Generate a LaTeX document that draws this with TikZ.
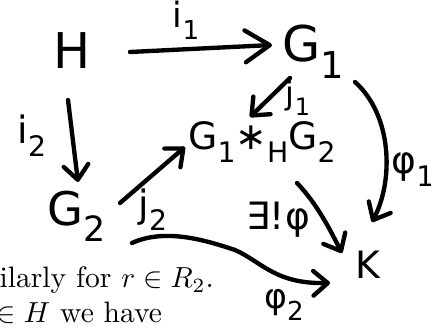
\documentclass[tikz,border=0pt]{standalone}
\usepackage{fontspec}
\usepackage{graphicx}
\usetikzlibrary{arrows.meta,calc}
\newfontfamily\handfont{DejaVu Sans}
\newcommand{\hsub}[1]{\raisebox{-0.35em}{\scalebox{0.75}{#1}}}
\begin{document}
\begin{tikzpicture}[x=0.345pt,y=-0.345pt,
  hand/.style={font={\handfont\fontsize{#1}{#1}\selectfont}, inner sep=0pt},
  stroke/.style={line width=1.5pt, line cap=round, line join=round},
  arr/.style={stroke, -{Straight Barb[length=5pt,width=8.5pt,line width=1.5pt,round]}},
  bigarr/.style={stroke, -{Straight Barb[length=8.5pt,width=11pt,line width=1.5pt,round]}},
  body/.style={font=\fontsize{10.2}{12}\selectfont, inner sep=0pt, anchor=base west}]
\useasboundingbox (0,0) rectangle (431,329);
\clip (0,0) rectangle (431,329);
% nodes
\node[hand=17pt] (H) at (72,51) {H};
\node[hand=17pt] (G1) at (313,52) {G\hsub{1}};
\node[hand=16pt] (G2) at (77,216) {G\hsub{2}};
\node[hand=13pt] (C) at (262,142) {G\hsub{1}∗\hsub{H}G\hsub{2}};
\node[hand=13pt] (K) at (368,265) {K};
% labels
\node[hand=12pt] (i1) at (186,20) {i\hsub{1}};
\node[hand=13pt] (i2) at (32,136) {i\hsub{2}};
\node[hand=11pt] (j1) at (298,98) {j\hsub{1}};
\node[hand=13pt] (j2) at (153,210) {j\hsub{2}};
\node[hand=13pt] (p1) at (413,170) {φ\hsub{1}};
\node[hand=13pt] (ex) at (278,220) {∃!φ};
\node[hand=12pt] (p2) at (284,305) {φ\hsub{2}};
% body text
\node[body] (t1) at (-1,288) {ilarly for $r \in R_2$.};
\node[body] (t2) at (-4,322) {$\in H$ we have};
% connectors
\draw[bigarr] ($(H)+(58,1)$) -- ($(G1)+(-41,-7)$);
\draw[arr] ($(H)+(-4,49)$) -- ($(G2)+(1,-34)$);
\draw[arr] ($(G1)+(-23,26)$) -- ($(C)+(-12,-25)$);
\draw[arr] ($(G2)+(43,-13)$) -- ($(C)+(-77,5)$);
\draw[arr] ($(G1)+(42,30)$) .. controls (392,115) and (394,180) .. ($(K)+(4,-43)$);
\draw[arr] ($(C)+(35,41)$) .. controls (318,205) and (330,230) .. ($(K)+(-26,-12)$);
\draw[arr] ($(G2)+(55,27)$) .. controls (165,228) and (205,240) .. (235,250)
  .. controls (262,262) and (275,284) .. ($(K)+(-38,18)$);
\end{tikzpicture}
\end{document}
